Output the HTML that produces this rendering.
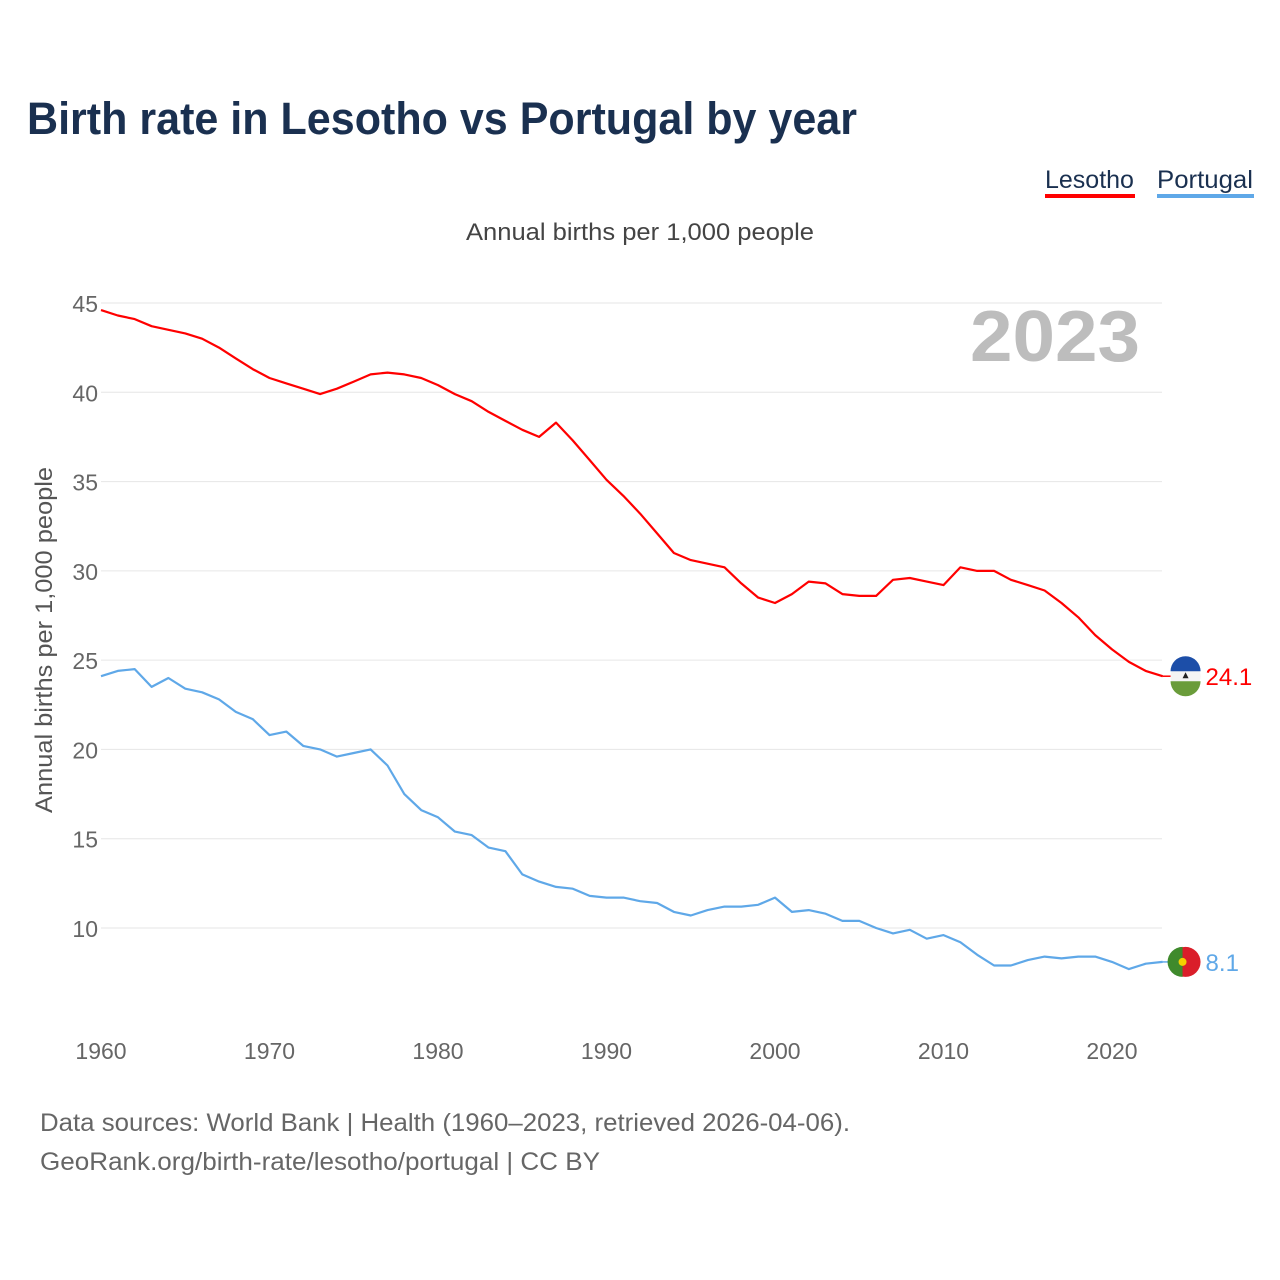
<!DOCTYPE html>
<html><head><meta charset="utf-8">
<style>
body{margin:0;background:#fff;font-family:"Liberation Sans",sans-serif;}
#wrap{position:relative;width:1280px;height:1280px;overflow:hidden;}
</style></head>
<body>
<div id="wrap">
<svg id="chart" width="1280" height="1280">
<text x="27" y="134" font-size="45" font-weight="bold" fill="#1a3050" textLength="830" lengthAdjust="spacingAndGlyphs">Birth rate in Lesotho vs Portugal by year</text>
<g><text x="1045" y="188" font-size="25" fill="#1a3050">Lesotho</text><rect x="1045" y="194" width="90" height="4" fill="#ff0000"/></g>
<g><text x="1157" y="188" font-size="25" fill="#1a3050" textLength="96" lengthAdjust="spacingAndGlyphs">Portugal</text><rect x="1157" y="194" width="97" height="4" fill="#5fa8e8"/></g>
<text x="640" y="240" font-size="24" fill="#444" text-anchor="middle" textLength="348" lengthAdjust="spacingAndGlyphs">Annual births per 1,000 people</text>
<text x="52" y="640" font-size="24" fill="#555" text-anchor="middle" textLength="346" lengthAdjust="spacingAndGlyphs" transform="rotate(-90 52 640)">Annual births per 1,000 people</text>
<text x="1140" y="361" font-size="72" font-weight="bold" fill="#bdbdbd" text-anchor="end" textLength="170" lengthAdjust="spacingAndGlyphs">2023</text>
<g id="grid"></g><g id="lines"></g>
<text x="40" y="1131" font-size="25" fill="#666" textLength="810" lengthAdjust="spacingAndGlyphs">Data sources: World Bank | Health (1960–2023, retrieved 2026-04-06).</text>
<text x="40" y="1170" font-size="25" fill="#666" textLength="560" lengthAdjust="spacingAndGlyphs">GeoRank.org/birth-rate/lesotho/portugal | CC BY</text>
</svg>
</div>
<script>
const years=[];for(let y=1960;y<=2023;y++)years.push(y);
const lesotho=[44.6,44.3,44.1,43.7,43.5,43.3,43.0,42.5,41.9,41.3,40.8,40.5,40.2,39.9,40.2,40.6,41.0,41.1,41.0,40.8,40.4,39.9,39.5,38.9,38.4,37.9,37.5,38.3,37.3,36.2,35.1,34.2,33.2,32.1,31.0,30.6,30.4,30.2,29.3,28.5,28.2,28.7,29.4,29.3,28.7,28.6,28.6,29.5,29.6,29.4,29.2,30.2,30.0,30.0,29.5,29.2,28.9,28.2,27.4,26.4,25.6,24.9,24.4,24.1];
const portugal=[24.1,24.4,24.5,23.5,24.0,23.4,23.2,22.8,22.1,21.7,20.8,21.0,20.2,20.0,19.6,19.8,20.0,19.1,17.5,16.6,16.2,15.4,15.2,14.5,14.3,13.0,12.6,12.3,12.2,11.8,11.7,11.7,11.5,11.4,10.9,10.7,11.0,11.2,11.2,11.3,11.7,10.9,11.0,10.8,10.4,10.4,10.0,9.7,9.9,9.4,9.6,9.2,8.5,7.9,7.9,8.2,8.4,8.3,8.4,8.4,8.1,7.7,8.0,8.1];
const yTicks=[10,15,20,25,30,35,40,45];
const xTicks=[1960,1970,1980,1990,2000,2010,2020];
const NS="http://www.w3.org/2000/svg";
const xS=y=>101+(y-1960)*(1011/60);
const yS=v=>303+(45-v)*(625/35);
function mk(tag,attrs,parent,txt){const e=document.createElementNS(NS,tag);for(const k in attrs)e.setAttribute(k,attrs[k]);if(txt!==undefined)e.textContent=txt;parent.appendChild(e);return e;}
const grid=document.getElementById('grid'),lines=document.getElementById('lines');
yTicks.forEach(t=>{
 const l=mk('line',{x1:101,x2:1162,y1:yS(t),y2:yS(t),stroke:'#e6e6e6','stroke-width':1},grid);
 
 
 const tx=mk('text',{x:98,y:yS(t)+9,'font-size':23,fill:'#666','text-anchor':'end'},grid,t);
 
 
});
xTicks.forEach(t=>{
 const tx=mk('text',{x:xS(t),y:1059,'font-size':23,fill:'#666','text-anchor':'middle'},grid,t);
 
 
});
function series(vals,color,name){
 const d=vals.map((v,i)=>(i?'L':'M')+xS(years[i]).toFixed(1)+','+yS(v).toFixed(1)).join('');
 const p=mk('path',{d:d,fill:'none',stroke:color,'stroke-width':2.2,'stroke-linejoin':'round'},lines);
 
 
 const last=vals[vals.length-1],cx=xS(2023)+23,cy=yS(last);
 mk('line',{x1:xS(2023),x2:cx-14,y1:cy,y2:cy,stroke:color,'stroke-width':1.5},lines);
 const g=mk('g',{},lines);
 
 
 if(name==='lesotho'){
  mk('circle',{cx:cx,cy:cy,r:15,fill:'#f4f4f4'},g);
  mk('path',{d:`M${cx-15},${cy-5}A15,15 0 0 1 ${cx+15},${cy-5}Z`,fill:'#1c4ea8'},g);
  mk('path',{d:`M${cx-15},${cy+5}A15,15 0 0 0 ${cx+15},${cy+5}Z`,fill:'#6a9c3a'},g);
  mk('path',{d:`M${cx-3},${cy+2}L${cx+3},${cy+2}L${cx},${cy-4}Z`,fill:'#222'},g);
 }else{
  mk('circle',{cx:cx,cy:cy,r:15,fill:'#da1e2a'},g);
  mk('path',{d:`M${cx-3},${cy-15}A15,15 0 0 0 ${cx-3},${cy+15}Z`,fill:'#3f8a2c'},g);
  mk('circle',{cx:cx-3,cy:cy,r:4,fill:'#f4d000'},g);
 }
 const lb=mk('text',{x:cx+20,y:cy+9,'font-size':24,fill:color},lines,last.toFixed(1));
 
 
}
series(lesotho,'#ff0000','lesotho');
series(portugal,'#5fa8e8','portugal');
</script>
</body></html>
